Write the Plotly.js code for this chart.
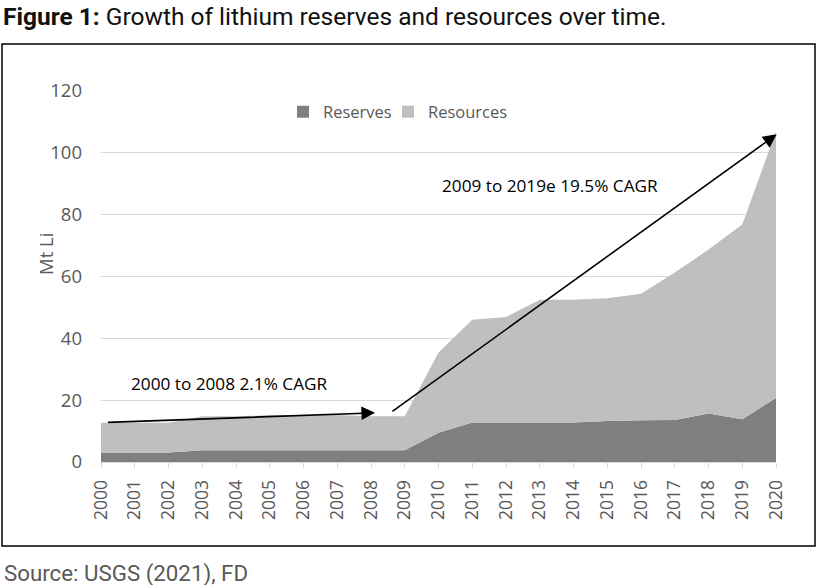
<!DOCTYPE html>
<html>
<head>
<meta charset="utf-8">
<script src="https://cdn.plot.ly/plotly-3.0.1.min.js"></script>
<style>
  html, body { margin: 0; padding: 0; background: #ffffff; }
  #chart { width: 818px; height: 585px; }
</style>
</head>
<body>
<div id="chart"></div>
<script>
// ---- Data (Mt Li) ----
const years = [2000, 2001, 2002, 2003, 2004, 2005, 2006, 2007, 2008, 2009, 2010,
               2011, 2012, 2013, 2014, 2015, 2016, 2017, 2018, 2019, 2020];
const reserves = [3.1, 3.1, 3.1, 3.8, 3.8, 3.8, 3.8, 3.8, 3.8, 3.8, 9.5,
                  12.8, 12.8, 12.8, 12.8, 13.3, 13.5, 13.6, 15.7, 13.8, 20.7];
const resources = [9.6, 9.6, 9.6, 11.0, 11.0, 11.3, 11.3, 11.4, 11.0, 11.0, 25.9,
                   33.2, 34.1, 39.7, 39.7, 39.7, 40.9, 47.7, 53.0, 63.0, 86.3];
const seriesNames = ["Reserves", "Resources"];
const yTicks = [0, 20, 40, 60, 80, 100, 120];

// Trend arrows: [startYear, startValue, endYear, endValue]
const arrow1 = [2000.16, 12.8, 2008.12, 15.9];
const arrow2 = [2008.59, 16.0, 2020.02, 106.0];
// Labels: [text, year, value]
const label1 = ["2000 to 2008 2.1% CAGR", 2003.8, 25.5];
const label2 = ["2009 to 2019e 19.5% CAGR", 2013.3, 89.3];

const titleText = "<b>Figure 1:</b> Growth of lithium reserves and resources over time.";
const sourceText = "Source: USGS (2021), FD";
const yTitle = "Mt Li";

// ---- Layout geometry ----
const W = 818, H = 585;
const M = { l: 101, r: 42, t: 91, b: 123 };
const PW = W - M.l - M.r, PH = H - M.t - M.b;
const px = x => (x - M.l) / PW;
const py = y => (H - M.b - y) / PH;

const darkGrey = "#7f7f7f";
const lightGrey = "#bfbfbf";
const textGrey = "#595959";

const traces = [
  {
    x: years, y: reserves, name: seriesNames[0], type: "scatter", mode: "none",
    stackgroup: "one", fillcolor: darkGrey, showlegend: false
  },
  {
    x: years, y: resources, name: seriesNames[1], type: "scatter", mode: "none",
    stackgroup: "one", fillcolor: lightGrey, showlegend: false
  },
  // legend entries (square swatches)
  { x: [null], y: [null], type: "bar", name: seriesNames[0], marker: { color: darkGrey },
    showlegend: true, legend: "legend" },
  { x: [null], y: [null], type: "bar", name: seriesNames[1], marker: { color: lightGrey },
    showlegend: true, legend: "legend2" }
];

const annFont = { family: "Open Sans, sans-serif", size: 17.2, color: "#000000" };
const legendFont = { family: "Open Sans, sans-serif", size: 16.5, color: textGrey };

const layout = {
  width: W, height: H,
  margin: M,
  paper_bgcolor: "#ffffff",
  plot_bgcolor: "#ffffff",
  font: { family: "Open Sans, sans-serif", color: textGrey },
  title: {
    text: titleText,
    font: { family: "Roboto, sans-serif", size: 24.5, color: "#111111" },
    xref: "container", yref: "container",
    x: 3 / W, xanchor: "left",
    y: 1 - 16 / H, yanchor: "middle"
  },
  showlegend: true,
  legend: {
    orientation: "h",
    x: px(283), xanchor: "left",
    y: py(112), yanchor: "middle",
    font: legendFont,
    bgcolor: "rgba(0,0,0,0)"
  },
  legend2: {
    orientation: "h",
    x: px(388), xanchor: "left",
    y: py(112), yanchor: "middle",
    font: legendFont,
    bgcolor: "rgba(0,0,0,0)"
  },
  xaxis: {
    range: [2000, 2020],
    tickvals: years,
    ticktext: years.map(String),
    tickangle: -90,
    tickfont: { family: "Open Sans, sans-serif", size: 17.5, color: textGrey },
    showgrid: false,
    zeroline: false,
    showline: true,
    linecolor: "#d9d9d9",
    linewidth: 1,
    ticks: "outside",
    ticklen: 5,
    tickcolor: "#d9d9d9",
    ticklabelstandoff: 5,
    fixedrange: true
  },
  yaxis: {
    range: [0, 120],
    tickvals: yTicks,
    tickfont: { family: "Open Sans, sans-serif", size: 18.5, color: textGrey },
    showgrid: true,
    gridcolor: "#d9d9d9",
    gridwidth: 1,
    zeroline: false,
    showline: false,
    ticks: "",
    ticklabelstandoff: 18,
    fixedrange: true
  },
  annotations: [
    {
      x: arrow1[2], y: arrow1[3], ax: arrow1[0], ay: arrow1[1],
      xref: "x", yref: "y", axref: "x", ayref: "y",
      text: "", showarrow: true, arrowhead: 2, arrowsize: 1.7, arrowwidth: 1.6, arrowcolor: "#000000"
    },
    {
      x: arrow2[2], y: arrow2[3], ax: arrow2[0], ay: arrow2[1],
      xref: "x", yref: "y", axref: "x", ayref: "y",
      text: "", showarrow: true, arrowhead: 2, arrowsize: 1.7, arrowwidth: 1.6, arrowcolor: "#000000"
    },
    {
      x: label1[1], y: label1[2], xref: "x", yref: "y", text: label1[0],
      showarrow: false, font: annFont, xanchor: "center", yanchor: "middle"
    },
    {
      x: label2[1], y: label2[2], xref: "x", yref: "y", text: label2[0],
      showarrow: false, font: annFont, xanchor: "center", yanchor: "middle"
    },
    {
      x: px(45), y: py(254), xref: "paper", yref: "paper", text: yTitle,
      textangle: -90, showarrow: false,
      font: { family: "Open Sans, sans-serif", size: 18.5, color: textGrey },
      xanchor: "center", yanchor: "middle"
    },
    {
      x: px(2), y: py(573), xref: "paper", yref: "paper", text: sourceText,
      showarrow: false, xanchor: "left", yanchor: "middle",
      font: { family: "Roboto, sans-serif", size: 22.3, color: textGrey }
    }
  ],
  shapes: [
    {
      type: "rect", xref: "paper", yref: "paper",
      x0: px(2), x1: px(815), y0: py(546), y1: py(44),
      line: { color: "#000000", width: 1.5 }, fillcolor: "rgba(0,0,0,0)", layer: "below"
    }
  ]
};

Plotly.newPlot("chart", traces, layout, { displayModeBar: false, staticPlot: true });
</script>
</body>
</html>
